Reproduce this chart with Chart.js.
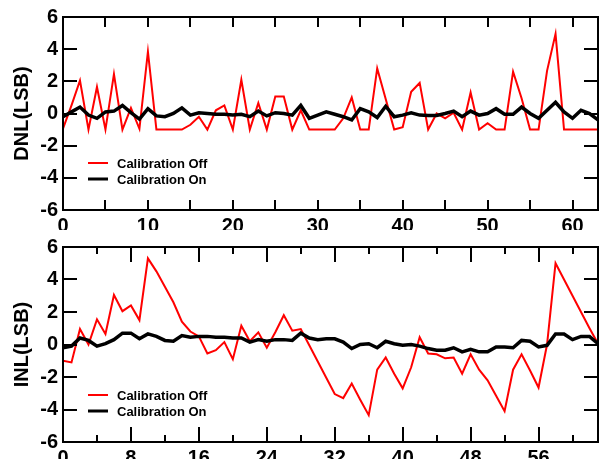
<!DOCTYPE html>
<html>
<head>
<meta charset="utf-8">
<script src="https://cdn.jsdelivr.net/npm/chart.js@4.4.1/dist/chart.umd.min.js"></script>
<style>
    body { margin: 0; background: #fff; }
    .panel { position: absolute; left: 0; width: 600px; }
</style>
</head>
<body>
<div class="panel" style="top:0"><canvas id="dnlChart" width="600" height="230"></canvas></div>
<div class="panel" style="top:230px"><canvas id="inlChart" width="600" height="229"></canvas></div>
<script>
// output codes 0..63
const codes = Array.from({ length: 64 }, (_, i) => i);

const seriesNames = ['Calibration Off', 'Calibration On'];

const dnlOff = [-0.95, 0.5, 2.05, -1, 1.65, -1, 2.45, -1, 0.35, -0.95,
    3.85, -1, -1, -1, -1, -0.7, -0.2, -1, 0.2, 0.5,
    -1, 2.1, -1, 0.65, -1, 1.05, 1.05, -1, 0.2, -1,
    -1, -1, -1, -0.3, 1.0, -1, -1, 2.8, 0.9, -1,
    -0.85, 1.35, 1.9, -1, 0, -0.3, 0.05, -1, 1.3, -1,
    -0.6, -1, -1, 2.6, 0.95, -1, -1, 2.65, 4.95, -1,
    -1, -1, -1, -1];
const dnlOn = [-0.2, 0.1, 0.4, -0.1, -0.3, 0.1, 0.15, 0.5, 0.05, -0.35,
    0.3, -0.15, -0.2, 0, 0.35, -0.1, 0.05, 0, -0.05, -0.05,
    -0.1, -0.05, -0.2, 0.15, -0.15, 0.05, 0, -0.1, 0.5, -0.3,
    -0.1, 0.1, -0.05, -0.2, -0.4, 0.3, 0.1, -0.25, 0.45, -0.2,
    -0.1, 0.05, -0.1, -0.12, -0.12, 0, 0.15, -0.2, 0.15, -0.1,
    0, 0.3, -0.05, -0.05, 0.4, 0, -0.3, 0.2, 0.7, 0.1,
    -0.3, 0.2, 0, -0.4];

const inlOff = [-1.0, -1.1, 0.95, 0, 1.55, 0.65, 3.05, 2.05, 2.4, 1.5,
    5.3, 4.5, 3.55, 2.6, 1.4, 0.8, 0.5, -0.55, -0.35, 0.15,
    -0.9, 1.15, 0.2, 0.75, -0.2, 0.75, 1.8, 0.85, 0.95, -0.05,
    -1.05, -2.05, -3.05, -3.3, -2.4, -3.4, -4.35, -1.55, -0.8, -1.8,
    -2.7, -1.4, 0.45, -0.55, -0.6, -0.85, -0.8, -1.8, -0.6, -1.55,
    -2.2, -3.15, -4.1, -1.55, -0.6, -1.6, -2.65, 0.0, 5.0, 4.0,
    3.0, 2.0, 1.0, 0.05];
const inlOn = [-0.2, -0.1, 0.4, 0.25, -0.1, 0.05, 0.3, 0.7, 0.7, 0.35,
    0.65, 0.5, 0.25, 0.2, 0.55, 0.45, 0.5, 0.5, 0.45, 0.45,
    0.4, 0.4, 0.15, 0.3, 0.2, 0.3, 0.3, 0.25, 0.7, 0.4,
    0.3, 0.35, 0.35, 0.15, -0.25, 0, 0.05, -0.2, 0.2, 0.05,
    -0.05, 0, -0.1, -0.25, -0.35, -0.35, -0.2, -0.45, -0.3, -0.45,
    -0.45, -0.15, -0.15, -0.2, 0.25, 0.2, -0.15, -0.05, 0.65, 0.65,
    0.3, 0.5, 0.5, 0.05];

const yTicks = [-6, -4, -2, 0, 2, 4, 6];
const dnlXTicks = [0, 10, 20, 30, 40, 50, 60];
const dnlXMinor = [5, 15, 25, 35, 45, 55];
const inlXTicks = [0, 8, 16, 24, 32, 40, 48, 56];
const inlXMinor = [4, 12, 20, 28, 36, 44, 52, 60];

const FONT = 'Liberation Sans, Arial, sans-serif';

let dnlChart;
let inlChart;

// box round the plot with inward ticks on all four sides
const framePlugin = {
    id: 'frame',
    afterDatasetsDraw(chart, args, opts) {
        const ctx = chart.ctx;
        const a = chart.chartArea;
        const xs = chart.scales.x;
        const ys = chart.scales.y;
        ctx.save();
        ctx.strokeStyle = '#000';
        ctx.lineWidth = 2;
        ctx.beginPath();
        yTicks.forEach(v => {
            const py = Math.round(ys.getPixelForValue(v));
            ctx.moveTo(a.left, py); ctx.lineTo(a.left + 14, py);
            ctx.moveTo(a.right, py); ctx.lineTo(a.right - 14, py);
        });
        const drawX = (v, len) => {
            const px = Math.round(xs.getPixelForValue(v));
            ctx.moveTo(px, a.top); ctx.lineTo(px, a.top + len);
            ctx.moveTo(px, a.bottom); ctx.lineTo(px, a.bottom - len);
        };
        opts.major.forEach(v => drawX(v, opts.majorLen));
        opts.minor.forEach(v => drawX(v, opts.minorLen));
        ctx.stroke();
        ctx.strokeRect(a.left, a.top, a.right - a.left, a.bottom - a.top);
        ctx.restore();
    }
};

// legend drawn inside the plot, lower left
const innerLegend = {
    id: 'innerLegend',
    afterDraw(chart, args, opts) {
        const ctx = chart.ctx;
        const a = chart.chartArea;
        ctx.save();
        ctx.font = 'bold 13px ' + FONT;
        ctx.textBaseline = 'middle';
        chart.data.datasets.forEach((ds, i) => {
            const y = a.top + opts.top + i * 16;
            const x = a.left + 25;
            ctx.strokeStyle = ds.borderColor;
            ctx.lineWidth = i === 0 ? 2 : 3;
            ctx.beginPath();
            ctx.moveTo(x, y); ctx.lineTo(x + 20, y);
            ctx.stroke();
            ctx.fillStyle = '#000';
            ctx.fillText(ds.label, x + 29, y + 1);
        });
        ctx.restore();
    }
};

function createPanel(id, title, off, on, xMajor, xMinor, majorLen, minorLen, padTop, xHeight, legendTop) {
    const ctx = document.getElementById(id).getContext('2d');
    return new Chart(ctx, {
        type: 'line',
        data: {
            datasets: [{
                label: seriesNames[0],
                data: codes.map((c, i) => ({ x: c, y: off[i] })),
                borderColor: '#ff0000',
                borderWidth: 2,
                pointRadius: 0,
                tension: 0,
                order: 2
            }, {
                label: seriesNames[1],
                data: codes.map((c, i) => ({ x: c, y: on[i] })),
                borderColor: '#000000',
                borderWidth: 3.5,
                pointRadius: 0,
                tension: 0,
                order: 1
            }]
        },
        options: {
            responsive: false,
            animation: false,
            devicePixelRatio: 1,
            layout: { padding: { top: padTop, right: 2, left: 0, bottom: 0 } },
            plugins: {
                legend: { display: false },
                tooltip: { enabled: false },
                frame: { major: xMajor, minor: xMinor, majorLen: majorLen, minorLen: minorLen },
                innerLegend: { top: legendTop }
            },
            scales: {
                x: {
                    type: 'linear',
                    min: 0,
                    max: 63,
                    grid: { display: false, drawTicks: false },
                    border: { display: false },
                    afterBuildTicks: s => { s.ticks = xMajor.map(v => ({ value: v })); },
                    afterFit: s => { s.height = xHeight; },
                    ticks: {
                        padding: 4,
                        maxRotation: 0,
                        autoSkip: false,
                        color: '#000',
                        font: { family: FONT, size: 20, weight: 'bold' }
                    }
                },
                y: {
                    min: -6,
                    max: 6,
                    grid: { display: false, drawTicks: false },
                    border: { display: false },
                    afterBuildTicks: s => { s.ticks = yTicks.map(v => ({ value: v })); },
                    afterFit: s => { s.width = 63; },
                    ticks: {
                        padding: 5,
                        color: '#000',
                        font: { family: FONT, size: 20, weight: 'bold' },
                        callback: v => String(v)
                    },
                    title: {
                        display: true,
                        text: title,
                        color: '#000',
                        padding: { top: 10, bottom: 0 },
                        font: { family: FONT, size: 20, weight: 'bold' }
                    }
                }
            }
        },
        plugins: [framePlugin, innerLegend]
    });
}

window.onload = function () {
    dnlChart = createPanel('dnlChart', 'DNL(LSB)', dnlOff, dnlOn, dnlXTicks, dnlXMinor, 10, 10, 14, 20, 146);
    inlChart = createPanel('inlChart', 'INL(LSB)', inlOff, inlOn, inlXTicks, inlXMinor, 15, 7, 17, 17, 148);
};
</script>
</body>
</html>
